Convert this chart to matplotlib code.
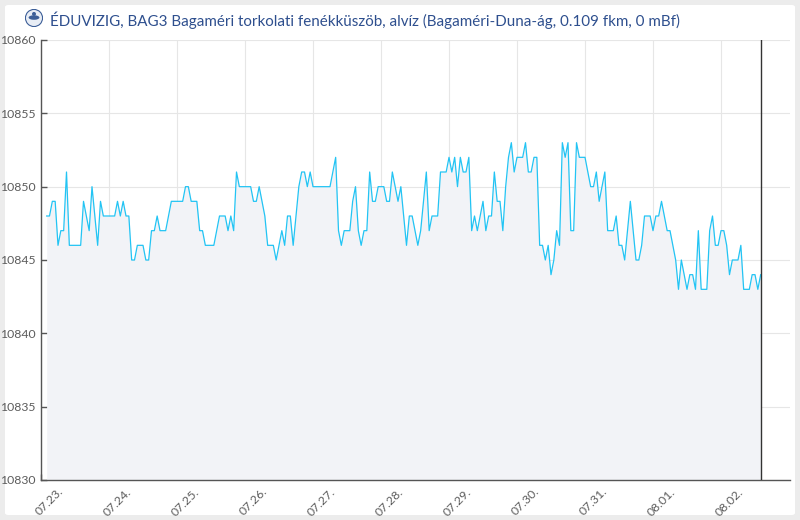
import numpy as np
import pandas as pd
import matplotlib
matplotlib.use("Agg")
import matplotlib.pyplot as plt
import matplotlib.dates as mdates
from matplotlib.patches import FancyBboxPatch, Circle, Ellipse
from matplotlib.transforms import ScaledTranslation

# ---------------------------------------------------------------
#   water level readings, hourly, 10800+ values
# ---------------------------------------------------------------

title = "ÉDUVIZIG, BAG3 Bagaméri torkolati fenékküszöb, alvíz (Bagaméri-Duna-ág, 0.109 fkm, 0 mBf)"

start_time = "2024-07-23 02:00"

part1 = [48, 48, 49, 49, 46, 47, 47, 51, 46, 46,
         46, 46, 46, 49, 48, 47, 50, 48, 46, 49,
         48, 48, 48, 48, 48, 49, 48, 49, 48, 48,
         45, 45, 46, 46, 46, 45, 45, 47, 47, 48,
         47, 47, 47, 48, 49, 49, 49, 49, 49, 50,
         50, 49, 49, 49, 47, 47, 46, 46, 46, 46,
         47, 48]
part2 = [48, 48, 47, 48, 47, 51, 50, 50, 50, 50,
         50, 49, 49, 50, 49, 48, 46, 46, 46, 45,
         46, 47, 46, 48, 48, 46, 48, 50, 51, 51,
         50, 51, 50, 50, 50, 50, 50, 50, 50, 51,
         52, 47, 46, 47, 47, 47, 49, 50, 47, 46,
         47, 47, 51, 49, 49, 50, 50, 50, 49, 49,
         51]
part3 = [50, 49, 50, 48, 46, 48, 48, 47, 46, 47,
         49, 51, 47, 48, 48, 48, 51, 51, 51, 52,
         51, 52, 50, 52, 51, 51, 52, 47, 48, 47,
         48, 49, 47, 48, 48, 51, 49, 49, 47, 50,
         52, 53, 51, 52, 52, 52, 53, 51, 51, 52,
         52, 46, 46, 45, 46, 44, 45, 47, 46, 53,
         52, 53, 47, 47, 53, 52]
part4 = [52, 52, 51, 50, 50, 51, 49, 50, 51, 47,
         47, 47, 48, 46, 46, 45, 47, 49, 47, 45,
         45, 46, 48, 48, 48, 47, 48, 48, 49, 48,
         47, 47, 46, 45, 43, 45, 44, 43, 44, 44,
         43, 47, 43, 43, 43, 47, 48, 46, 46, 47,
         47, 46, 44, 45, 45, 45, 46, 43, 43, 43,
         44, 44, 43, 44]

level = 10800 + np.array(part1 + part2 + part3 + part4)
times = pd.date_range(start_time, periods=len(level), freq="h")

y_ticks = [10830, 10835, 10840, 10845, 10850, 10855, 10860]
day_ticks = pd.date_range("2024-07-23", "2024-08-02", freq="D")

line_color = "#22c4f4"
fill_color = "#f2f3f7"
text_color = "#5c5c5c"

fig = plt.figure(figsize=(8, 5.2), dpi=100, facecolor="#ececec")
panel = FancyBboxPatch((5 / 800, 5 / 520), 790 / 800, 510 / 520,
                       boxstyle="round,pad=0,rounding_size=0.004",
                       transform=fig.transFigure, facecolor="white",
                       edgecolor="none", zorder=-10)
fig.patches.append(panel)

ax = fig.add_axes([41 / 800, 40 / 520, 749 / 800, 440 / 520])
ax.set_facecolor("none")

ax.fill_between(times, level, y_ticks[0], color=fill_color, lw=0, zorder=1)
ax.plot(times, level, color=line_color, lw=0.9, zorder=3)
ax.axvline(times[-1], color="#333333", lw=1.0, zorder=4)

t0 = pd.Timestamp("2024-07-23")
ax.set_xlim(t0, t0 + pd.Timedelta(days=749 / 68))
ax.set_ylim(y_ticks[0], y_ticks[-1])
ax.set_yticks(y_ticks)
ax.set_xticks(day_ticks)
ax.xaxis.set_major_formatter(mdates.DateFormatter("%m.%d."))

ax.grid(True, color="#e6e6e6", lw=0.8, zorder=0)
ax.set_axisbelow(True)
for s in ["top", "right"]:
    ax.spines[s].set_visible(False)
for s in ["left", "bottom"]:
    ax.spines[s].set_color("#555555")
    ax.spines[s].set_linewidth(1.0)

ax.tick_params(axis="both", direction="in", length=4, width=1.0,
               color="#555555", labelcolor=text_color, labelsize=8.8)
ax.tick_params(axis="y", pad=4)
for lab in ax.get_yticklabels():
    lab.set_family("Lato")
offset = ScaledTranslation(0.20, -0.05, fig.dpi_scale_trans)
for lab in ax.get_xticklabels():
    lab.set_family("Lato")
    lab.set_rotation(45)
    lab.set_rotation_mode("anchor")
    lab.set_ha("right")
    lab.set_va("center")
    lab.set_transform(lab.get_transform() + offset)

# header with a small round emblem
fig.text(50 / 800, 1 - 20 / 520, title, family="Lato", fontsize=10.9,
         color="#2e4f8e", va="center", ha="left")
logo = fig.add_axes([25 / 800, 1 - 27 / 520, 18 / 800, 18 / 520])
logo.set_xlim(-1, 1)
logo.set_ylim(-1, 1)
logo.set_aspect("equal")
logo.axis("off")
logo.add_patch(Circle((0, 0), 0.95, facecolor="#e8edf5", edgecolor="#3d5f98", lw=0.8))
logo.add_patch(Ellipse((0, 0.05), 1.2, 0.5, facecolor="#3d5f98", edgecolor="none"))
logo.add_patch(Circle((0, 0.45), 0.22, facecolor="#3d5f98", edgecolor="none"))

fig.savefig("out.png", dpi=100, facecolor=fig.get_facecolor())
